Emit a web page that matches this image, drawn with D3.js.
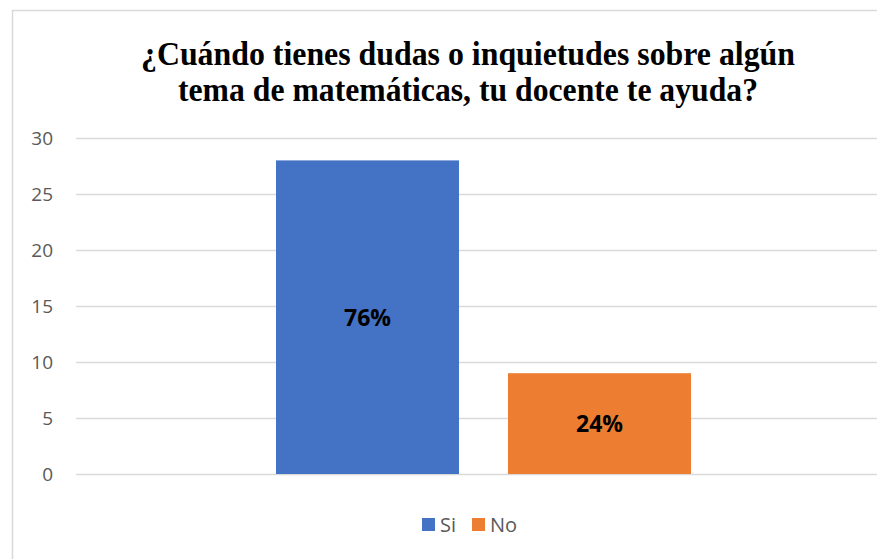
<!DOCTYPE html>
<html>
<head>
<meta charset="utf-8">
<script src="https://cdn.jsdelivr.net/npm/d3@7"></script>
<style>
  html, body { margin: 0; padding: 0; background: #fff; }
  svg { display: block; }
</style>
</head>
<body>
<div id="chart"></div>
<script>
// Survey answers: number of students per response
const categories = ["Si", "No"];
const values = [28, 9];
const colors = ["#4472C4", "#ED7D31"];
const yTicks = [0, 5, 10, 15, 20, 25, 30];
const titleLines = [
  "¿Cuándo tienes dudas o inquietudes sobre algún",
  "tema de matemáticas, tu docente te ayuda?"
];

const W = 877, H = 559;
const plot = { left: 76, right: 891, top: 138, bottom: 474 };

const svg = d3.select("#chart").append("svg")
  .attr("width", W).attr("height", H);

// chart frame
svg.append("rect")
  .attr("x", 12.5).attr("y", 10.5)
  .attr("width", W + 40).attr("height", H + 40)
  .attr("fill", "#fff")
  .attr("stroke", "#d9d9d9").attr("stroke-width", 1.5);

// title
const titleWidths = [654, 580];
svg.append("g").selectAll("text").data(titleLines).join("text")
  .attr("x", 468)
  .attr("y", (d, i) => 65 + i * 36)
  .attr("text-anchor", "middle")
  .attr("font-family", "'Liberation Serif', 'Times New Roman', serif")
  .attr("font-weight", "bold")
  .attr("font-size", 34)
  .attr("fill", "#000")
  .attr("textLength", (d, i) => titleWidths[i])
  .attr("lengthAdjust", "spacingAndGlyphs")
  .text(d => d);

// scales
const y = d3.scaleLinear().domain([0, 30]).range([plot.bottom, plot.top]);
const x = d3.scaleBand().domain(categories)
  .range([plot.left + 200, plot.right - 200])
  .paddingInner(49 / 232).paddingOuter(0);

// gridlines + y labels through a left axis
const yAxis = d3.axisLeft(y).tickValues(yTicks)
  .tickSize(-(plot.right - plot.left)).tickPadding(23);
const ga = svg.append("g")
  .attr("transform", `translate(${plot.left},0)`)
  .call(yAxis);
ga.select(".domain").remove();
ga.selectAll(".tick line").attr("stroke", "#d9d9d9").attr("stroke-width", 1.5);
ga.selectAll(".tick text")
  .attr("fill", "#595959")
  .attr("font-family", "'Open Sans', 'Liberation Sans', sans-serif")
  .attr("font-size", 19);

// bars
const total = d3.sum(values);
const data = categories.map((c, i) => ({ c, v: values[i], color: colors[i] }));
svg.append("g").selectAll("rect").data(data).join("rect")
  .attr("x", d => x(d.c))
  .attr("y", d => y(d.v))
  .attr("width", x.bandwidth())
  .attr("height", d => y(0) - y(d.v))
  .attr("fill", d => d.color);

// percentage labels centred in each bar
const pct = d3.format(".0%");
svg.append("g").selectAll("text").data(data).join("text")
  .attr("x", d => x(d.c) + x.bandwidth() / 2)
  .attr("y", d => (y(d.v) + y(0)) / 2)
  .attr("dy", "0.38em")
  .attr("text-anchor", "middle")
  .attr("font-family", "'Open Sans', 'Liberation Sans', sans-serif")
  .attr("font-weight", "bold")
  .attr("font-size", 23)
  .attr("fill", "#000")
  .text(d => pct(d.v / total));

// legend
const legend = svg.append("g");
const legendX = [422, 472];
const li = legend.selectAll("g").data(data).join("g")
  .attr("transform", (d, i) => `translate(${legendX[i]},518)`);
li.append("rect").attr("width", 13).attr("height", 13).attr("fill", d => d.color);
li.append("text")
  .attr("x", 18).attr("y", 6.5).attr("dy", "0.36em")
  .attr("fill", "#595959")
  .attr("font-family", "'Open Sans', 'Liberation Sans', sans-serif")
  .attr("font-size", 20)
  .text(d => d.c);
</script>
</body>
</html>
